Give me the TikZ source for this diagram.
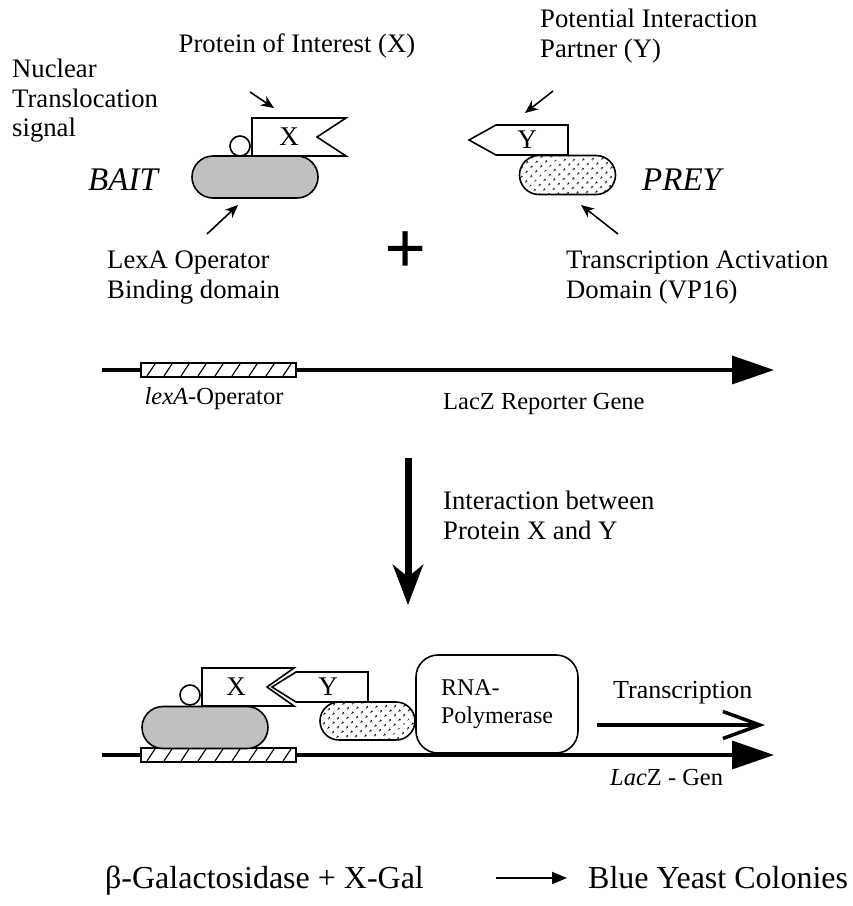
\documentclass[tikz,border=0pt]{standalone}
\usepackage{fontspec}
\setmainfont{Liberation Serif}
\usepackage{tikz}
\usetikzlibrary{arrows.meta,positioning,shapes.misc,patterns.meta}
\definecolor{baitgray}{HTML}{C0C0C0}

\begin{document}
\begin{tikzpicture}[x=1pt, y=-1pt, >=stealth,
		lbl/.style={font=\fontsize{26.7}{29.5}\selectfont, inner sep=0pt, align=left},
		small/.style={font=\fontsize{24.5}{28}\selectfont, inner sep=0pt},
		big/.style={font=\fontsize{33}{38}\selectfont\itshape, inner sep=0pt},
		flaglbl/.style={font=\fontsize{27}{30}\selectfont, inner sep=0pt},
		result/.style={font=\fontsize{32}{36}\selectfont, anchor=base west, inner sep=0pt},
		outl/.style={draw=black, line width=1.6pt},
		bait/.style={outl, rounded rectangle, fill=baitgray, minimum width=126pt, minimum height=42pt, inner sep=0pt},
		prey/.style={outl, rounded rectangle, pattern={Dots[distance=6.5pt, radius=1.2pt, angle=45]}, minimum width=96pt, minimum height=39pt, inner sep=0pt},
		nls/.style={outl, circle, fill=white, minimum size=20pt, inner sep=0pt},
		flag/.style={outl, fill=white, line join=miter},
		opbox/.style={draw=black, fill=white, line width=1.5pt},
		rnabox/.style={outl, rounded corners=22pt, minimum width=162pt, minimum height=98pt, align=left, font=\fontsize{24}{28}\selectfont},
		ptr/.style={-{Stealth[length=13pt,width=11pt,inset=4pt]}, line width=1.6pt},
		dna/.style={-{Triangle[length=42pt,width=28pt]}, line width=3.5pt}]
	
	\useasboundingbox (0,0) rectangle (853,906);
	
	% top: bait and prey
	\node[lbl, anchor=base] (poi) at (297,52) {Protein of Interest (X)};
	\node[lbl, anchor=north west] (nlslbl) at (12,59) {Nuclear\\Translocation\\signal};
	\node[lbl, anchor=north west] (pip) at (540,9) {Potential Interaction\\Partner (Y)};
	\node[big, anchor=base west] (baitlbl) at (88,190) {BAIT};
	\node[big, anchor=base west] (preylbl) at (642,190) {PREY};
	
	\node[bait] (bait1) at (255,177) {};
	\draw[flag] (252,118) -- (346,118) -- (317,137) -- (346,156) -- (252,156) -- cycle;
	\node[flaglbl] (xlab1) at (289,137) {X};
	\node[nls] (dot1) at (240,146) {};
	
	\draw[flag] (469,140) -- (496,125) -- (568,125) -- (568,155) -- (496,155) -- cycle;
	\node[flaglbl] (ylab1) at (527,140) {Y};
	\node[prey] (prey1) at (567.5,175) {};
	
	\coordinate (p1s) at (250,92);  \coordinate (p1e) at (274,108);
	\coordinate (p2s) at (553,91);  \coordinate (p2e) at (525,113);
	\coordinate (p3s) at (207,234); \coordinate (p3e) at (238,205);
	\coordinate (p4s) at (618,234); \coordinate (p4e) at (581,205);
	\draw[ptr] (p1s) -- (p1e);
	\draw[ptr] (p2s) -- (p2e);
	\draw[ptr] (p3s) -- (p3e);
	\draw[ptr] (p4s) -- (p4e);
	
	\node[lbl, anchor=north west] (lexalbl) at (107,251) {LexA Operator\\Binding domain};
	\node[lbl, anchor=north west] (tadlbl) at (566,251) {Transcription Activation\\Domain (VP16)};
	\node[font=\bfseries\fontsize{74}{74}\selectfont, inner sep=0pt] (plus) at (406,253) {+};
	
	% reporter gene
	\coordinate (dnaA) at (102,370); \coordinate (dnaAend) at (774,370);
	\coordinate (dnaB) at (102,755); \coordinate (dnaBend) at (774,755);
	\draw[dna] (dnaA) -- (dnaAend);
	\draw[dna] (dnaB) -- (dnaBend);
	\foreach \y in {370,755} {
		\draw[opbox] (141,\y-7) rectangle (296,\y+7);
		\foreach \i in {0,...,8}
			\draw[line width=1.2pt] (147+17*\i,\y+6) -- (155+17*\i,\y-6);
	}
	\node[small, anchor=base] (oplbl) at (214,404) {\textit{lexA}-Operator};
	\node[small, anchor=base west] (lacz1) at (443,409) {LacZ Reporter Gene};
	
	\coordinate (dtop) at (408,458); \coordinate (dbot) at (408,605);
	\draw[line width=7pt, -{Stealth[length=40pt,width=30pt,inset=12pt]}] (dtop) -- (dbot);
	\node[lbl, anchor=north west] (interlbl) at (443,491) {Interaction between\\Protein X and Y};
	
	% bottom: complex on the operator
	\node[bait] (bait2) at (205,727.5) {};
	\draw[flag] (272,687) -- (296,672) -- (368,672) -- (368,702) -- (296,702) -- cycle;
	\draw[flag] (202,668) -- (294,668) -- (267,687) -- (294,706) -- (202,706) -- cycle;
	\node[flaglbl] (xlab2) at (236,687) {X};
	\node[flaglbl] (ylab2) at (328,687) {Y};
	\node[nls] (dot2) at (190,695) {};
	\node[prey, minimum width=95pt, minimum height=38pt] (prey2) at (367.5,721) {};
	\node[rnabox] (rnap) at (497,704) {RNA-\\Polymerase};
	
	\node[small, font=\fontsize{26}{30}\selectfont, anchor=base west] (transc) at (613,698) {Transcription};
	\coordinate (ts) at (597,725); \coordinate (te) at (765,725);
	\draw[line width=3.5pt, -{Straight Barb[length=37pt,width=27pt]}] (ts) -- (te);
	\node[small, anchor=base west] (lacz2) at (610,785) {\textit{Lac}Z - Gen};
	
	% result
	\node[result] (bgal) at (105,888) {β-Galactosidase + X-Gal};
	\node[result] (blue) at (588,888) {Blue Yeast Colonies};
	\coordinate (ar1) at (496,878); \coordinate (ar2) at (567,878);
	\draw[line width=2pt, -{Triangle[length=15pt,width=12pt]}] (ar1) -- (ar2);
	
\end{tikzpicture}
\end{document}
